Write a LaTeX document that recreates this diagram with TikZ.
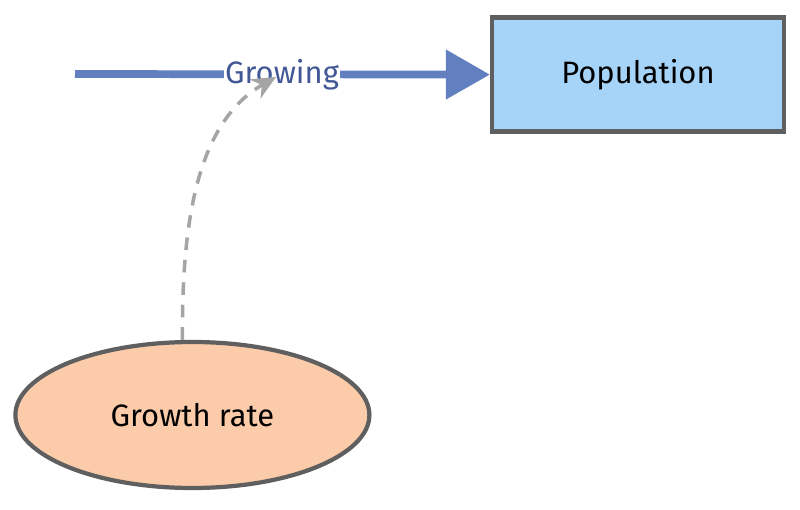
\documentclass[tikz,border=0pt]{standalone}
\usepackage{fontspec}
\setmainfont{Fira Sans}
\usetikzlibrary{shapes.geometric,arrows.meta}
\definecolor{flowblue}{RGB}{98,128,192}
\definecolor{labelblue}{RGB}{66,88,150}
\definecolor{stockfill}{RGB}{166,212,248}
\definecolor{auxfill}{RGB}{252,204,170}
\definecolor{edgegray}{RGB}{95,95,95}
\definecolor{linkgray}{RGB}{165,165,165}
\tikzset{
    stock/.style={draw=edgegray,line width=3pt,fill=stockfill,minimum width=7.3cm,minimum height=2.85cm,font=\fontsize{22}{26}\selectfont},
    aux/.style={ellipse,draw=edgegray,line width=3pt,fill=auxfill,minimum width=8.85cm,minimum height=3.65cm,font=\fontsize{22}{26}\selectfont},
    flow/.style={draw=flowblue,line width=5.5pt,-{Triangle[length=1.1cm,width=1.2cm]}},
    link/.style={draw=linkgray,line width=2.5pt,dash pattern=on 9pt off 7pt,-{Stealth[length=0.6cm,width=0.55cm]}}
}
\begin{document}
\begin{tikzpicture}
    \useasboundingbox (0,0) rectangle (20,12.725);

    % stock and auxiliary
    \node[stock] (population) at (15.95,10.86) {Population};
    \node[aux] (growthrate) at (4.81,2.35) {Growth rate};

    % flow
    \coordinate (source) at (1.875,10.875);
    \draw[flow] (source) -- (population.west);
    \node[fill=white,inner sep=1pt,text=labelblue,font=\fontsize{22}{26}\selectfont] (growing) at (7.05,10.85) {Growing};

    % link
    \coordinate (valve) at (6.9,10.8);
    \draw[link] (growthrate.north) ++(-0.25,0) coordinate (linkstart)
        (linkstart) .. controls (4.55,6.8) and (4.8,9.6) .. (valve);
\end{tikzpicture}
\end{document}
